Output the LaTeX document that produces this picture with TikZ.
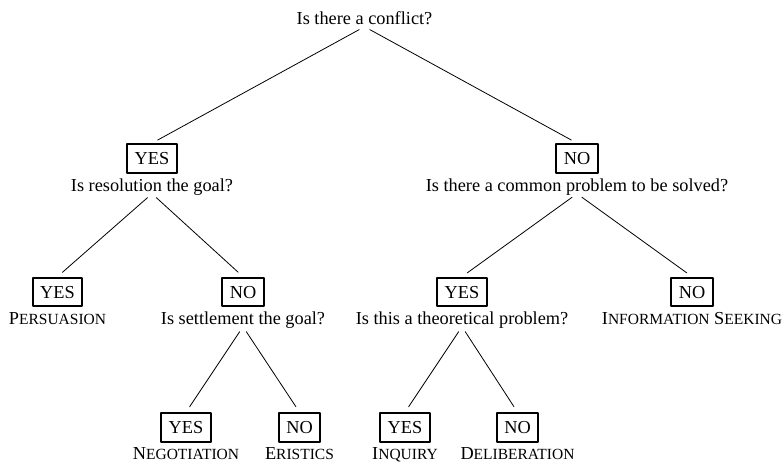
\documentclass[tikz,border=0pt]{standalone}
\usepackage{fontspec}
\setmainfont{Liberation Serif}
\newcommand{\smc}[2]{#1{\fontsize{15.5pt}{18pt}\selectfont #2}}
\begin{document}
\begin{tikzpicture}[x=1pt, y=-1pt, line join=round, line cap=round,
	font=\fontsize{18.3pt}{22pt}\selectfont,
	ans/.style={draw, line width=2.2pt, inner xsep=7.5pt, inner ysep=0pt, text height=12.1pt, text depth=0pt, minimum height=28.5pt},
	ask/.style={inner sep=0pt, anchor=base, text depth=0.25em},
	branch/.style={line width=0.8pt, shorten <=6pt, shorten >=6.5pt}]
	\useasboundingbox (0,0) rectangle (784,463);
	\node[ask] (conflict) at (364.5,24) {Is there a conflict?};
	% first answer
	\node[ans] (yes1) at (152,158.5) {YES};
	\node[ask] (resolution) at (152,191) {Is resolution the goal?};
	\node[ans] (no1) at (577,158.5) {NO};
	\node[ask] (common) at (577,191) {Is there a common problem to be solved?};
	% second answer
	\node[ans] (yes2) at (57.5,292) {YES};
	\node[ask] (persuasion) at (57.5,324) {\smc{P}{ERSUASION}};
	\node[ans] (no2) at (243,292) {NO};
	\node[ask] (settlement) at (243,324) {Is settlement the goal?};
	\node[ans] (yes3) at (462,292) {YES};
	\node[ask] (theoretical) at (462,324) {Is this a theoretical problem?};
	\node[ans] (no3) at (692,292) {NO};
	\node[ask] (seeking) at (692,324) {\smc{I}{NFORMATION} \smc{S}{EEKING}};
	% third answer
	\node[ans] (yes4) at (186,427.5) {YES};
	\node[ask] (negotiation) at (186,459.5) {\smc{N}{EGOTIATION}};
	\node[ans] (no4) at (299.5,427.5) {NO};
	\node[ask] (eristics) at (299.5,459.5) {\smc{E}{RISTICS}};
	\node[ans] (yes5) at (405,427.5) {YES};
	\node[ask] (inquiry) at (405,459.5) {\smc{I}{NQUIRY}};
	\node[ans] (no5) at (517.5,427.5) {NO};
	\node[ask] (deliberation) at (517.5,459.5) {\smc{D}{ELIBERATION}};
	\foreach \a/\b in {conflict/yes1, conflict/no1, resolution/yes2, resolution/no2, common/yes3, common/no3,
		settlement/yes4, settlement/no4, theoretical/yes5, theoretical/no5}
		\draw[branch] (\a.south) -- (\b.north);
\end{tikzpicture}
\end{document}
